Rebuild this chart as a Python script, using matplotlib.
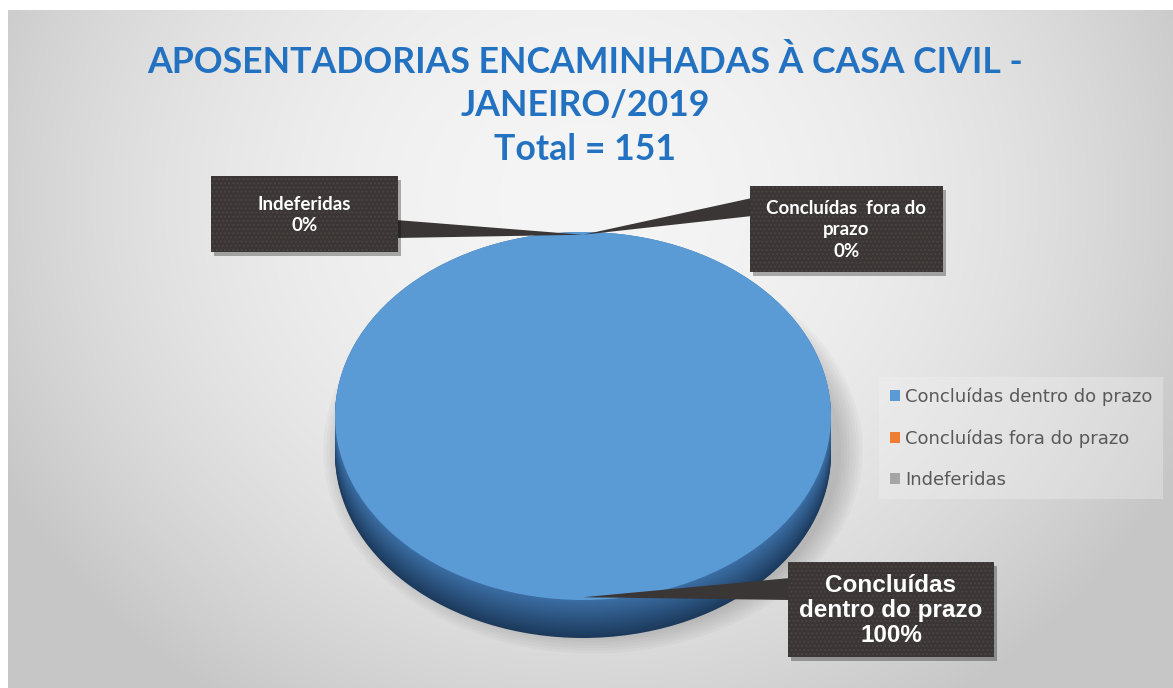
import numpy as np
import matplotlib.pyplot as plt
from matplotlib.patches import Polygon, Rectangle, Ellipse

W, H = 1173, 688

categorias = ["Concluídas dentro do prazo", "Concluídas fora do prazo", "Indeferidas"]
rotulos = ["Concluídas\ndentro do prazo", "Concluídas  fora do\nprazo", "Indeferidas"]
quantidades = [151, 0, 0]
cores = ["#5b9bd5", "#ed7d31", "#a5a5a5"]
titulo = ["APOSENTADORIAS ENCAMINHADAS À CASA CIVIL -", "JANEIRO/2019"]

total = sum(quantidades)

fig = plt.figure(figsize=(W / 100, H / 100), dpi=100)
fig.patch.set_facecolor("white")

# fundo com gradiente radial
bg = fig.add_axes([0, 0, 1, 1])
xx, yy = np.meshgrid(np.arange(8, W), np.arange(10, H))
r2 = ((xx - 585) / 620.0) ** 2 + ((yy - 200) / 560.0) ** 2
v = np.clip(0.96 - 0.16 * r2, 0.78, 1.0)
bg.imshow(np.dstack([v, v, v]), extent=(8, W, H, 10), aspect="auto", interpolation="bilinear")
bg.set_xlim(0, W)
bg.set_ylim(H, 0)
bg.axis("off")

# pizza "3d": face de cima 335..831 x 232..600, espessura 38px
pa = fig.add_axes([335 / W, 1 - 638 / H, 496 / W, 406 / H])
dep = 2 * 38 / 368.0

# sombra suave
for k in range(8):
    pa.add_patch(Ellipse((0.04, -dep * 0.9), 2.0 + 0.025 * k, 2.0 + 0.03 * k,
                         color="k", alpha=0.025, lw=0, clip_on=False))

escuro = np.array([0x1c, 0x3a, 0x5c]) / 255.0
claro = np.array([0x3c, 0x6f, 0xa5]) / 255.0
n = 24
for i in range(n):
    t = i / (n - 1)
    c = escuro * (1 - t) + claro * t
    pa.pie(quantidades, colors=[c] * len(quantidades), startangle=90, counterclock=False,
           center=(0, -dep * (1 - t)), radius=1, wedgeprops=dict(linewidth=0))
fatias, _ = pa.pie(quantidades, colors=cores, startangle=90, counterclock=False,
                   wedgeprops=dict(linewidth=0))
pa.set_xlim(-1, 1)
pa.set_ylim(-1 - dep, 1)
pa.set_aspect("auto")
pa.axis("off")

# camada de rotulos
ov = fig.add_axes([0, 0, 1, 1])
ov.set_xlim(0, W)
ov.set_ylim(H, 0)
ov.axis("off")

cor_tit = "#2372c2"
ov.text(585, 62, titulo[0], ha="center", va="center", fontsize=25.7, fontweight="bold",
        color=cor_tit, family="Lato")
ov.text(585, 106, titulo[1], ha="center", va="center", fontsize=25.7, fontweight="bold",
        color=cor_tit, family="Lato")
ov.text(585, 150, "Total = %d" % total, ha="center", va="center", fontsize=25.7,
        fontweight="bold", color=cor_tit, family="Lato")

# caixas: (x, y, largura, altura, lado do ponteiro, y0, y1, fonte, tamanho, entrelinha)
caixas = [
    (788, 562, 206, 95, "left", 578, 600, "Liberation Sans", 17.5, 1.12),
    (750, 186, 193, 86, "left", 198, 216, "Lato", 13.5, 1.35),
    (211, 176, 187, 76, "right", 220, 238, "Lato", 13.5, 1.35),
]

cum = np.cumsum([0] + quantidades[:-1]) / total
frac = np.array(quantidades) / total
cor_caixa = "#3a3636"
for i, q in enumerate(quantidades):
    ang = np.deg2rad(90 - 360 * (cum[i] + frac[i] / 2))
    ponta = np.array([np.cos(ang), np.sin(ang)]) * 0.985
    px, py = ov.transData.inverted().transform(pa.transData.transform(ponta))
    bx, by, bw, bh, lado, y0, y1, fam, fs, ls = caixas[i]
    ex = bx + 2 if lado == "left" else bx + bw - 2
    ov.add_patch(Polygon([(ex, y0), (ex, y1), (px, py)], closed=True, color=cor_caixa, lw=0, zorder=2))
    ov.add_patch(Rectangle((bx + 3, by + 4), bw, bh, color="k", alpha=0.3, lw=0, zorder=2))
    ov.add_patch(Rectangle((bx, by), bw, bh, facecolor=cor_caixa, lw=0, zorder=3))
    ov.add_patch(Rectangle((bx, by), bw, bh, facecolor="none", edgecolor="#6a5a50",
                           hatch="....", lw=0, alpha=0.35, zorder=3))
    pct = "%d%%" % round(100.0 * q / total)
    ov.text(bx + bw / 2, by + bh / 2 + 1, rotulos[i] + "\n" + pct, ha="center", va="center",
            color="white", fontsize=fs, fontweight="bold", family=fam, linespacing=ls,
            zorder=4)

leg = fig.legend(fatias, categorias, loc="center left", bbox_to_anchor=(870 / W, 1 - 438 / H),
                 frameon=True, facecolor="#f2f2f2", edgecolor="none", framealpha=0.35,
                 handlelength=0.55, handleheight=0.55, handletextpad=0.3, labelspacing=1.28,
                 fontsize=13, labelcolor="#595959", fancybox=False, borderpad=0.6)

fig.savefig("out.png", dpi=100, facecolor=fig.get_facecolor())
